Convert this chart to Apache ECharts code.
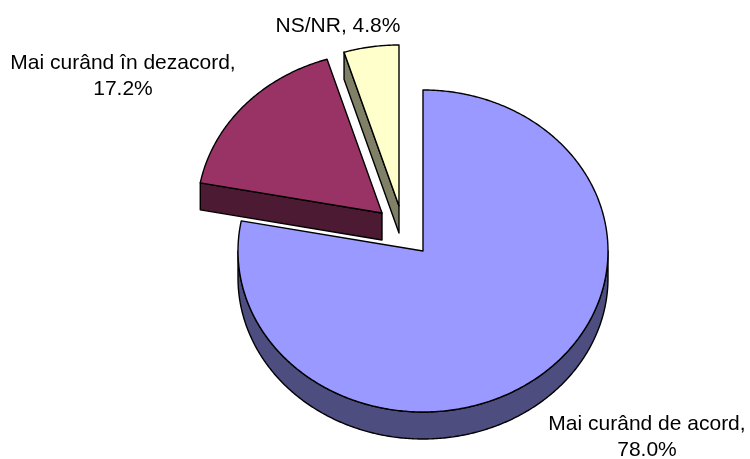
<!DOCTYPE html>
<html>
<head>
<meta charset="utf-8">
<style>
  html, body { margin: 0; padding: 0; background: #fff; }
  #chart { width: 750px; height: 459px; }
</style>
</head>
<body>
<div id="chart"></div>
<script src="https://cdn.jsdelivr.net/npm/echarts@6/dist/echarts.min.js"></script>
<script>
const categories = ['Mai curând de acord', 'Mai curând în dezacord', 'NS/NR'];
const values = [78.0, 17.2, 4.8];
const topColors = ['#9999FF', '#993366', '#FFFFCC'];
const sideColors = ['#4D4D80', '#4D1A33', '#808066'];

// ellipse of the pie top and how far each slice is pulled out
const cx = 423, cy = 251, rx = 185, ry = 161, depth = 27;
const pulled = [[0, 0], [-41, -38], [-24, -45]];
// label anchors, one per slice
const labelPos = [[647, 437], [123, 76], [338, 26]];

const chart = echarts.init(document.getElementById('chart'));

const total = values.reduce((a, b) => a + b, 0);
let running = 0;
const slices = values.map((v, i) => {
  const start = running / total * Math.PI * 2;
  running += v;
  return { start, end: running / total * Math.PI * 2, x: cx + pulled[i][0], y: cy + pulled[i][1] };
});

// angle is clockwise from 12 o'clock
function pt(s, a, down) {
  return [s.x + rx * Math.sin(a), s.y - ry * Math.cos(a) + (down ? depth : 0)];
}
function arcPts(s, a0, a1, down) {
  const n = Math.max(2, Math.ceil(Math.abs(a1 - a0) / 0.01));
  const out = [];
  for (let k = 0; k <= n; k++) out.push(pt(s, a0 + (a1 - a0) * k / n, down));
  return out;
}
function poly(points, fill, z2) {
  return {
    type: 'polygon',
    z2: z2,
    shape: { points: points },
    style: { fill: fill, stroke: '#000', lineWidth: 1.4, lineJoin: 'round' }
  };
}
function labelText(i) {
  const t = categories[i] + ', ';
  const pct = values[i].toFixed(1) + '%';
  return i === 2 ? t + pct : t.trim() + '\n' + pct;
}

function renderSlice(params) {
  const i = params.dataIndex;
  const s = slices[i];
  const kids = [];
  const apexTop = [s.x, s.y];
  const apexLow = [s.x, s.y + depth];

  // outer rim, only the front half of the ellipse shows
  const rimStart = Math.max(s.start, Math.PI / 2);
  const rimEnd = Math.min(s.end, Math.PI * 1.5);
  if (rimEnd > rimStart) {
    kids.push(poly(arcPts(s, rimStart, rimEnd, false).concat(arcPts(s, rimEnd, rimStart, true)), sideColors[i], 1));
  }
  // the pulled slices show their cut face on the starting edge
  if (i > 0) {
    const e = pt(s, s.start, false), eLow = pt(s, s.start, true);
    kids.push(poly([apexTop, e, eLow, apexLow], sideColors[i], 1));
  }
  // top face
  kids.push(poly([apexTop].concat(arcPts(s, s.start, s.end, false)), topColors[i], 2));

  kids.push({
    type: 'text',
    z2: 3,
    style: {
      x: labelPos[i][0],
      y: labelPos[i][1],
      text: labelText(i),
      fill: '#000',
      fontSize: 21,
      fontFamily: '"Liberation Sans", Arial, sans-serif',
      align: 'center',
      verticalAlign: 'middle',
      lineHeight: 26
    }
  });
  return { type: 'group', children: kids };
}

chart.setOption({
  animation: false,
  backgroundColor: '#fff',
  series: [{
    type: 'custom',
    coordinateSystem: 'none',
    silent: true,
    data: values,
    renderItem: renderSlice
  }]
});
</script>
</body>
</html>
